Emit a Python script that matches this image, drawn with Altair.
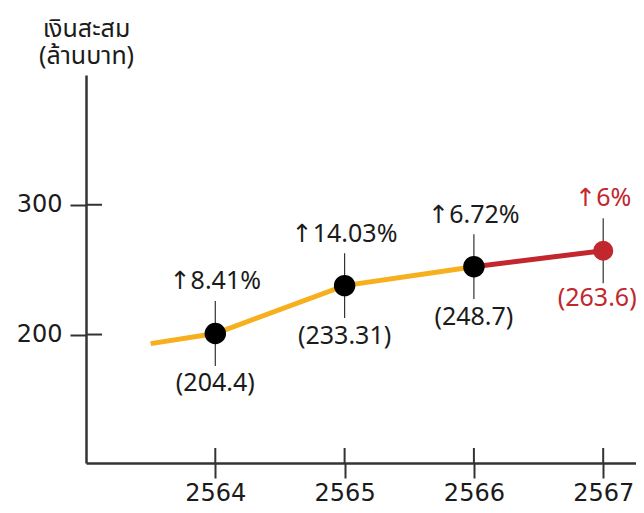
import altair as alt
import pandas as pd

# ---- data ----
years = [2564, 2565, 2566, 2567]
values = [200.8, 237.7, 252.3, 264.6]          # plotted positions
growth = ["8.41%", "14.03%", "6.72%", "6%"]
amounts = ["204.4", "233.31", "248.7", "263.6"]
line_start_year = 2563.5
line_start_value = 193.0
y_ticks = [200, 300]

NUMFONT = "Noto Sans, DejaVu Sans, sans-serif"
AXFONT = "DejaVu Sans"
THAIFONT = "Noto Sans Thai, Noto Sans, sans-serif"
ORANGE = "#F6B01E"
RED = "#C1272D"
INK = "#1b1b1b"
AXIS = "#333333"

pts = pd.DataFrame({"year": years, "value": values, "growth": growth, "amount": amounts})
line_df = pd.DataFrame({"year": [line_start_year] + years,
                        "value": [line_start_value] + values})
ytick_df = pd.DataFrame({"value": y_ticks})
xtick_df = pd.DataFrame({"year": years})

W, H = 550, 388
xscale = alt.Scale(domain=[2563, 2563 + W / 129.3], nice=False, zero=False)
yscale = alt.Scale(domain=[101, 400], nice=False, zero=False)

x_axis = alt.Axis(values=years, format="d", title=None, grid=False,
                  domainColor=AXIS, domainWidth=2.5, tickColor=AXIS, tickWidth=2,
                  tickSize=15, labelFontSize=24, labelColor=INK, labelPadding=22,
                  labelBaseline="alphabetic", labelFont=AXFONT)
y_axis = alt.Axis(values=y_ticks, format="d", title=["เงินสะสม", "(ล้านบาท)"], grid=False,
                  domainColor=AXIS, domainWidth=2.5, tickColor=AXIS, tickWidth=2,
                  tickSize=16, labelFontSize=24, labelColor=INK, labelPadding=8,
                  labelFont=AXFONT, titleAngle=0, titleAlign="center", titleX=0, titleY=-39,
                  titleBaseline="alphabetic", titleFontSize=25, titleFontWeight="normal",
                  titleLineHeight=27, titleColor=INK, titleFont=THAIFONT)

def X(f="year"):
    return alt.X(f"{f}:Q", scale=xscale, axis=x_axis)

def Y(f="value"):
    return alt.Y(f"{f}:Q", scale=yscale, axis=y_axis)

orange_line = alt.Chart(line_df).transform_filter("datum.year <= 2566").mark_line(
    color=ORANGE, strokeWidth=5).encode(x=X(), y=Y())
red_line = alt.Chart(line_df).transform_filter("datum.year >= 2566").mark_line(
    color=RED, strokeWidth=5).encode(x=X(), y=Y())

whiskers = alt.Chart(pts).transform_calculate(
    lo="datum.value - 25", hi="datum.value + 25").mark_rule(
    color=AXIS, strokeWidth=1.2).encode(x=X(), y=Y("lo"), y2="hi:Q")

dots_black = alt.Chart(pts).transform_filter("datum.year < 2567").mark_circle(
    size=460, opacity=1, color="#000000").encode(x=X(), y=Y())
dots_red = alt.Chart(pts).transform_filter("datum.year == 2567").mark_circle(
    size=400, opacity=1, color=RED).encode(x=X(), y=Y())

LBL = 25
pct_black = alt.Chart(pts).transform_filter("datum.year < 2567").transform_calculate(
    t="'↑' + datum.growth").mark_text(
    dy=-52, fontSize=LBL, color=INK, font=NUMFONT).encode(x=X(), y=Y(), text="t:N")
pct_red = alt.Chart(pts).transform_filter("datum.year == 2567").transform_calculate(
    t="'↑' + datum.growth").mark_text(
    dy=-53, fontSize=LBL, color=RED, font=NUMFONT).encode(x=X(), y=Y(), text="t:N")
amt_black = alt.Chart(pts).transform_filter("datum.year < 2567").transform_calculate(
    t="'(' + datum.amount + ')'").mark_text(
    dy=50, fontSize=LBL, color=INK, font=NUMFONT).encode(x=X(), y=Y(), text="t:N")
amt_red = alt.Chart(pts).transform_filter("datum.year == 2567").transform_calculate(
    t="'(' + datum.amount + ')'").mark_text(
    dy=47, dx=-6, fontSize=LBL, color=RED, font=NUMFONT).encode(x=X(), y=Y(), text="t:N")

ytick_in = alt.Chart(ytick_df).mark_rule(color=AXIS, strokeWidth=2).encode(
    y=Y(), x=alt.value(0), x2=alt.value(16))
xtick_in = alt.Chart(xtick_df).mark_rule(color=AXIS, strokeWidth=2).encode(
    x=X(), y=alt.value(H), y2=alt.value(H - 15))

chart = alt.layer(
    ytick_in, xtick_in, whiskers, orange_line, red_line,
    dots_black, dots_red, pct_black, pct_red, amt_black, amt_red
).properties(
    width=W, height=H,
    autosize=alt.AutoSizeParams(type="none"),
    padding={"left": 78, "top": 67, "right": 0, "bottom": 42},
).configure_view(stroke=None)

chart.save("out.html", embed_options={"renderer": "svg", "actions": False})
